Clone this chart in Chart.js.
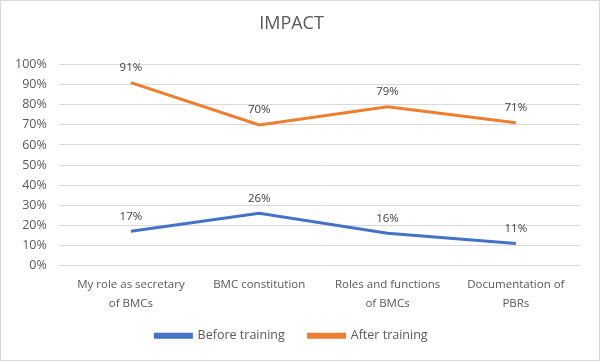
<!DOCTYPE html>
<html>
<head>
<meta charset="utf-8">
<script src="https://cdn.jsdelivr.net/npm/chart.js"></script>
<style>
  html, body { margin: 0; padding: 0; background: #fff; }
  #wrap { width: 600px; height: 361px; box-sizing: border-box; border: 1px solid #d9d9d9; position: relative; }
</style>
</head>
<body>
<div id="wrap"><canvas id="chart"></canvas></div>
<script>
// categories and values
var categories = [
    ["My role as secretary", "of BMCs"],
    ["BMC constitution"],
    ["Roles and functions", "of BMCs"],
    ["Documentation of", "PBRs"]
];
var before_training = [17, 26, 16, 11];
var after_training = [91, 70, 79, 71];

var font_family = "'Open Sans', 'Noto Sans', sans-serif";
var grey = "#595959";

// draws the value above every point
var point_labels = {
    id: "point_labels",
    afterDatasetsDraw: function (chart) {
        var ctx = chart.ctx;
        ctx.save();
        ctx.font = "11.5px " + font_family;
        ctx.fillStyle = "#404040";
        ctx.textAlign = "center";
        ctx.textBaseline = "middle";
        chart.data.datasets.forEach(function (ds, i) {
            chart.getDatasetMeta(i).data.forEach(function (pt, j) {
                ctx.fillText(ds.data[j] + "%", pt.x, pt.y - 15);
            });
        });
        ctx.restore();
    }
};

new Chart(document.getElementById("chart"), {
    type: "line",
    data: {
        labels: categories,
        datasets: [{
            label: "Before training",
            data: before_training,
            borderColor: "#4472C4",
            backgroundColor: "#4472C4",
            borderWidth: 3,
            pointRadius: 0,
            tension: 0
        }, {
            label: "After training",
            data: after_training,
            borderColor: "#ED7D31",
            backgroundColor: "#ED7D31",
            borderWidth: 3,
            pointRadius: 0,
            tension: 0
        }]
    },
    options: {
        responsive: true,
        maintainAspectRatio: false,
        animation: false,
        events: [],
        layout: { padding: { left: 2, right: 19, top: 6, bottom: 8 } },
        plugins: {
            title: {
                display: true,
                text: "IMPACT",
                color: grey,
                font: { family: font_family, size: 18, weight: "normal" },
                padding: { top: 6, bottom: 30 }
            },
            legend: {
                position: "bottom",
                labels: {
                    color: grey,
                    font: { family: font_family, size: 12.5 },
                    boxWidth: 36,
                    boxHeight: 3,
                    padding: 14,
                    // a little extra room between the two entries
                    generateLabels: function (chart) {
                        var items = Chart.defaults.plugins.legend.labels.generateLabels(chart);
                        items[0].text = items[0].text + "   ";
                        return items;
                    }
                }
            },
            tooltip: { enabled: false }
        },
        scales: {
            x: {
                offset: true,
                grid: { display: false },
                border: { display: false },
                ticks: {
                    color: grey,
                    font: { family: font_family, size: 11.5, lineHeight: "19px" },
                    maxRotation: 0,
                    autoSkip: false,
                    padding: 2
                }
            },
            y: {
                min: 0,
                max: 100,
                grid: { color: "#d9d9d9" },
                border: { display: false },
                ticks: {
                    stepSize: 10,
                    color: grey,
                    font: { family: font_family, size: 12.5 },
                    padding: 12,
                    callback: function (v) { return v + "%"; }
                }
            }
        }
    },
    plugins: [point_labels]
});
</script>
</body>
</html>
